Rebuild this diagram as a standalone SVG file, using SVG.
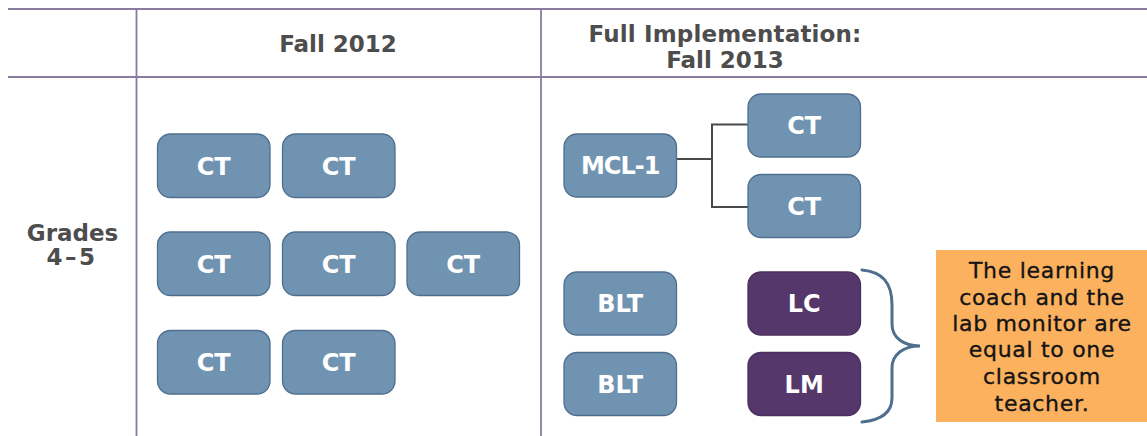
<svg xmlns="http://www.w3.org/2000/svg" width="1147" height="436" viewBox="0 0 1147 436">
<style>
.grid{stroke:#8A7BA0;stroke-width:1.8;fill:none}
.hdr{font-family:"DejaVu Sans",sans-serif;font-weight:bold;font-size:23px;fill:#4D4D4D;text-anchor:middle}
.box{fill:#7093B1;stroke:#4F6F8F;stroke-width:1.3}
.pbox{fill:#55376B;stroke:#4A2F5E;stroke-width:1.3}
.lbl{font-family:"DejaVu Sans",sans-serif;font-weight:bold;font-size:24px;fill:#FFFFFF;text-anchor:middle}
.conn{stroke:#4A4A4A;stroke-width:2;fill:none}
.brace{stroke:#4F6F8F;stroke-width:3;fill:none;stroke-linecap:round}
.note{font-family:"DejaVu Sans",sans-serif;font-size:22px;fill:#141414;stroke:#141414;stroke-width:0.35;text-anchor:middle;letter-spacing:0.7px}
</style>
<rect width="1147" height="436" fill="#FFFFFF"/>
<g id="table">
<line class="grid" x1="8" y1="9" x2="1147" y2="9"/>
<line class="grid" x1="8" y1="77" x2="1147" y2="77"/>
<line class="grid" x1="136.5" y1="9" x2="136.5" y2="436"/>
<line class="grid" x1="541" y1="9" x2="541" y2="436"/>
<text class="hdr" x="338" y="51.5">Fall 2012</text>
<text class="hdr" x="725" y="42" style="letter-spacing:0.15px">Full Implementation:</text>
<text class="hdr" x="725" y="67.5">Fall 2013</text>
<text class="hdr" x="72.5" y="241">Grades</text>
<text class="hdr" x="72" y="264.5" style="letter-spacing:2.5px">4–5</text>
</g>
<g id="connectors">
<polyline class="conn" points="676.5,159 712,159"/>
<polyline class="conn" points="748,124.5 712,124.5 712,207 748,207"/>
</g>
<g id="ct-a1"><rect class="box" x="157.5" y="134" width="112.5" height="63.5" rx="13"/><text class="lbl" x="213.7" y="174.5">CT</text></g>
<g id="ct-a2"><rect class="box" x="282.5" y="134" width="112.5" height="63.5" rx="13"/><text class="lbl" x="338.7" y="174.5">CT</text></g>
<g id="ct-b1"><rect class="box" x="157.5" y="232" width="112.5" height="63.5" rx="13"/><text class="lbl" x="213.7" y="272.5">CT</text></g>
<g id="ct-b2"><rect class="box" x="282.5" y="232" width="112.5" height="63.5" rx="13"/><text class="lbl" x="338.7" y="272.5">CT</text></g>
<g id="ct-b3"><rect class="box" x="407" y="232" width="112.5" height="63.5" rx="13"/><text class="lbl" x="463.2" y="272.5">CT</text></g>
<g id="ct-c1"><rect class="box" x="157.5" y="330.5" width="112.5" height="63.5" rx="13"/><text class="lbl" x="213.7" y="371">CT</text></g>
<g id="ct-c2"><rect class="box" x="282.5" y="330.5" width="112.5" height="63.5" rx="13"/><text class="lbl" x="338.7" y="371">CT</text></g>
<g id="mcl1"><rect class="box" x="564" y="134" width="112.5" height="63" rx="13"/><text class="lbl" x="620.2" y="174" style="letter-spacing:-1px">MCL-1</text></g>
<g id="ct-r1"><rect class="box" x="748" y="94" width="112.5" height="63" rx="13"/><text class="lbl" x="804.2" y="134">CT</text></g>
<g id="ct-r2"><rect class="box" x="748" y="174.5" width="112.5" height="63" rx="13"/><text class="lbl" x="804.2" y="214.5">CT</text></g>
<g id="blt1"><rect class="box" x="564" y="272" width="112.5" height="63" rx="13"/><text class="lbl" x="620.2" y="312">BLT</text></g>
<g id="blt2"><rect class="box" x="564" y="352.5" width="112.5" height="63" rx="13"/><text class="lbl" x="620.2" y="392.5">BLT</text></g>
<g id="lc"><rect class="pbox" x="748" y="272" width="112.5" height="63" rx="13"/><text class="lbl" x="804.2" y="312">LC</text></g>
<g id="lm"><rect class="pbox" x="748" y="352.5" width="112.5" height="63" rx="13"/><text class="lbl" x="804.2" y="392.5">LM</text></g>
<g id="brace">
<path class="brace" d="M862,270 C882,272 892,282 892,305 L892,324 C892,338 904,346 920,346 C904,346 892,354 892,368 L892,398 C892,412 882,420 862,422"/>
</g>
<g id="note">
<rect x="936" y="250" width="211" height="172" fill="#FBB15E"/>
<text class="note" x="1042" y="278">The learning</text>
<text class="note" x="1042" y="304.5">coach and the</text>
<text class="note" x="1042" y="331">lab monitor are</text>
<text class="note" x="1042" y="357">equal to one</text>
<text class="note" x="1042" y="383.5">classroom</text>
<text class="note" x="1042" y="410.5">teacher.</text>
</g>
</svg>
